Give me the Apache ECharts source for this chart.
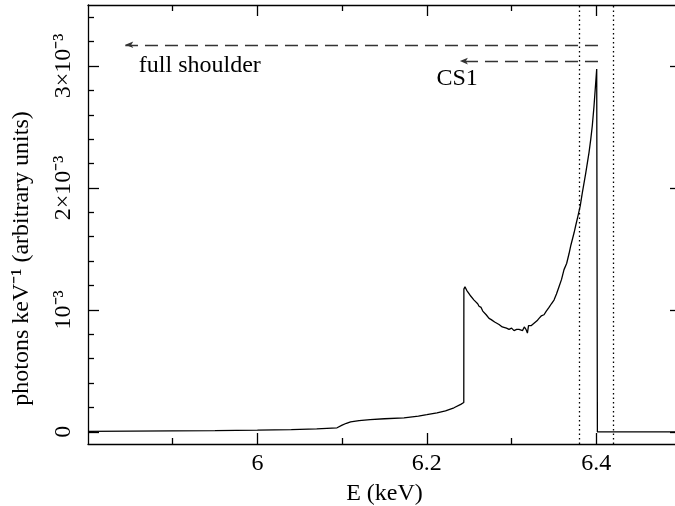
<!DOCTYPE html>
<html>
<head>
<meta charset="utf-8">
<script src="https://cdn.jsdelivr.net/npm/echarts@6/dist/echarts.min.js"></script>
<style>
  html, body { margin: 0; padding: 0; background: #fff; }
  #main { width: 675px; height: 506px; }
</style>
</head>
<body>
<div id="main"></div>
<script>
// energy in keV, flux in units of 1e-3 photons keV^-1
var energy = [5.80, 5.85, 5.90, 5.95, 6.00, 6.04, 6.07, 6.094, 6.10, 6.105, 6.11, 6.12, 6.133, 6.15, 6.173,
  6.19, 6.20, 6.212, 6.222, 6.232, 6.240, 6.2436,
  6.2437, 6.245, 6.247, 6.249, 6.251, 6.253, 6.2557, 6.258, 6.260, 6.2616, 6.264, 6.266, 6.2675,
  6.270, 6.272, 6.2734, 6.276, 6.278, 6.280, 6.282, 6.2852, 6.287, 6.289, 6.2911, 6.294, 6.297,
  6.300, 6.3029, 6.306, 6.3088, 6.311, 6.313, 6.315, 6.317, 6.3187, 6.320, 6.323, 6.3265, 6.330,
  6.3324, 6.335, 6.3383, 6.341, 6.3442, 6.347, 6.3501, 6.353, 6.356, 6.359, 6.3619, 6.365, 6.3678,
  6.370, 6.3737, 6.376, 6.3784, 6.381, 6.3835, 6.385, 6.3875, 6.389, 6.3914, 6.3935, 6.3953,
  6.3973, 6.3985, 6.4005, 6.4012, 6.4013, 6.50]
var flux = [0.004, 0.006, 0.008, 0.010, 0.013, 0.018, 0.024, 0.033, 0.055, 0.070, 0.082, 0.092, 0.100, 0.107, 0.115,
  0.128, 0.140, 0.156, 0.172, 0.197, 0.225, 0.240,
  1.17, 1.19, 1.16, 1.15, 1.12, 1.11, 1.08, 1.07, 1.05, 1.03, 1.02, 0.99, 0.99,
  0.96, 0.95, 0.93, 0.92, 0.91, 0.90, 0.91, 0.88, 0.89, 0.86, 0.87, 0.85, 0.84,
  0.85, 0.83, 0.84, 0.84, 0.85, 0.83, 0.86, 0.84, 0.81, 0.87, 0.87, 0.89, 0.91,
  0.93, 0.95, 0.96, 0.99, 1.02, 1.05, 1.08, 1.13, 1.19, 1.25, 1.33, 1.38, 1.46,
  1.53, 1.63, 1.70, 1.77, 1.85, 1.96, 1.97, 2.12, 2.13, 2.29, 2.40, 2.51,
  2.67, 2.68, 2.975, 2.99, 0.0, 0.0]

var xMajor = [6, 6.2, 6.4]
var xMinor = [5.9, 6.1, 6.3]
var yMajor = [0, 1, 2, 3]
var yMinor = [0.2, 0.4, 0.6, 0.8, 1.2, 1.4, 1.6, 1.8, 2.2, 2.4, 2.6, 2.8, 3.2, 3.4]

// annotations
var windowLines = [6.379, 6.421]
var arrowFull = [[6.402, 3.174], [5.844, 3.174]]
var arrowCS1 = [[6.402, 3.04], [6.239, 3.04]]
var labelFull = [5.860, 3.0]
var labelCS1 = [6.2114, 2.898]

var font = 'Liberation Serif'
var xRange = [5.8, 6.5]
var yRange = [-0.1, 3.5]

function yLabel(v) {
    if (v === 0) return '0'
    if (v === 1) return '10\u207B\u00B3'
    return v + '\u00D710\u207B\u00B3'
}

function xAxisDef(pos, ticks, len, withLabel) {
    return {
        type: 'value',
        position: pos,
        min: xRange[0],
        max: xRange[1],
        axisLine: { show: withLabel !== null, onZero: false, lineStyle: { color: '#000', width: 1.3 } },
        axisTick: { inside: true, length: len, customValues: ticks, lineStyle: { color: '#000', width: 1.3 } },
        axisLabel: withLabel ? {
            show: true,
            customValues: ticks,
            margin: 8,
            color: '#000',
            fontFamily: font,
            fontSize: 24,
        } : { show: false },
        splitLine: { show: false },
    }
}

function yAxisDef(pos, ticks, len, withLabel) {
    return {
        type: 'value',
        position: pos,
        min: yRange[0],
        max: yRange[1],
        axisLine: { show: withLabel !== null, onZero: false, lineStyle: { color: '#000', width: 1.3 } },
        axisTick: { inside: true, length: len, customValues: ticks, lineStyle: { color: '#000', width: 1.3 } },
        axisLabel: withLabel ? {
            show: true,
            customValues: ticks,
            rotate: 90,
            margin: 12,
            color: '#000',
            fontFamily: font,
            fontSize: 24,
            formatter: yLabel,
        } : { show: false },
        splitLine: { show: false },
    }
}

var chart = echarts.init(document.getElementById('main'))

var xAxes = [
    xAxisDef('bottom', xMajor, 11, true),
    xAxisDef('bottom', xMinor, 6, null),
    xAxisDef('top', xMajor, 11, false),
    xAxisDef('top', xMinor, 6, null),
]
xAxes[0].name = 'E (keV)'
xAxes[0].nameLocation = 'middle'
xAxes[0].nameGap = 38
xAxes[0].nameTextStyle = { color: '#000', fontFamily: font, fontSize: 24 }

var yAxes = [
    yAxisDef('left', yMajor, 11, true),
    yAxisDef('left', yMinor, 6, null),
    yAxisDef('right', yMajor, 11, false),
    yAxisDef('right', yMinor, 6, null),
]
yAxes[0].name = 'photons keV\u207B\u00B9 (arbitrary units)'
yAxes[0].nameLocation = 'middle'
yAxes[0].nameGap = 54
yAxes[0].nameTextStyle = { color: '#000', fontFamily: font, fontSize: 24, padding: [0, 68, 0, 0] }

var dashStyle = { color: '#333', width: 1.3, type: [13, 7] }
var dotStyle = { color: '#000', width: 1.3, type: [1.5, 3] }

var option = {
    animation: false,
    backgroundColor: '#fff',
    grid: { left: 88, top: 5, width: 593, height: 439, outerBoundsMode: 'none' },
    xAxis: xAxes,
    yAxis: yAxes,
    series: [
        {
            type: 'line',
            data: energy.map(function (e, i) { return [e, flux[i]] }),
            showSymbol: false,
            lineStyle: { color: '#000', width: 1.3 },
            markLine: {
                silent: true,
                animation: false,
                symbol: ['none', 'none'],
                label: { show: false },
                data: [
                    { xAxis: windowLines[0], lineStyle: dotStyle },
                    { xAxis: windowLines[1], lineStyle: dotStyle },
                    [
                        { coord: arrowFull[0], symbol: 'none', lineStyle: dashStyle },
                        { coord: arrowFull[1], symbol: 'arrow', symbolSize: [5, 8] },
                    ],
                    [
                        { coord: arrowCS1[0], symbol: 'none', lineStyle: dashStyle },
                        { coord: arrowCS1[1], symbol: 'arrow', symbolSize: [5, 8] },
                    ],
                ],
            },
            markPoint: {
                silent: true,
                symbolSize: 0,
                label: {
                    show: true,
                    position: 'right',
                    distance: 0,
                    color: '#000',
                    fontFamily: font,
                    fontSize: 24,
                },
                data: [
                    { coord: labelFull, value: 'full shoulder' },
                    { coord: labelCS1, value: 'CS1' },
                ],
            },
        },
    ],
}
chart.setOption(option)
</script>
</body>
</html>
